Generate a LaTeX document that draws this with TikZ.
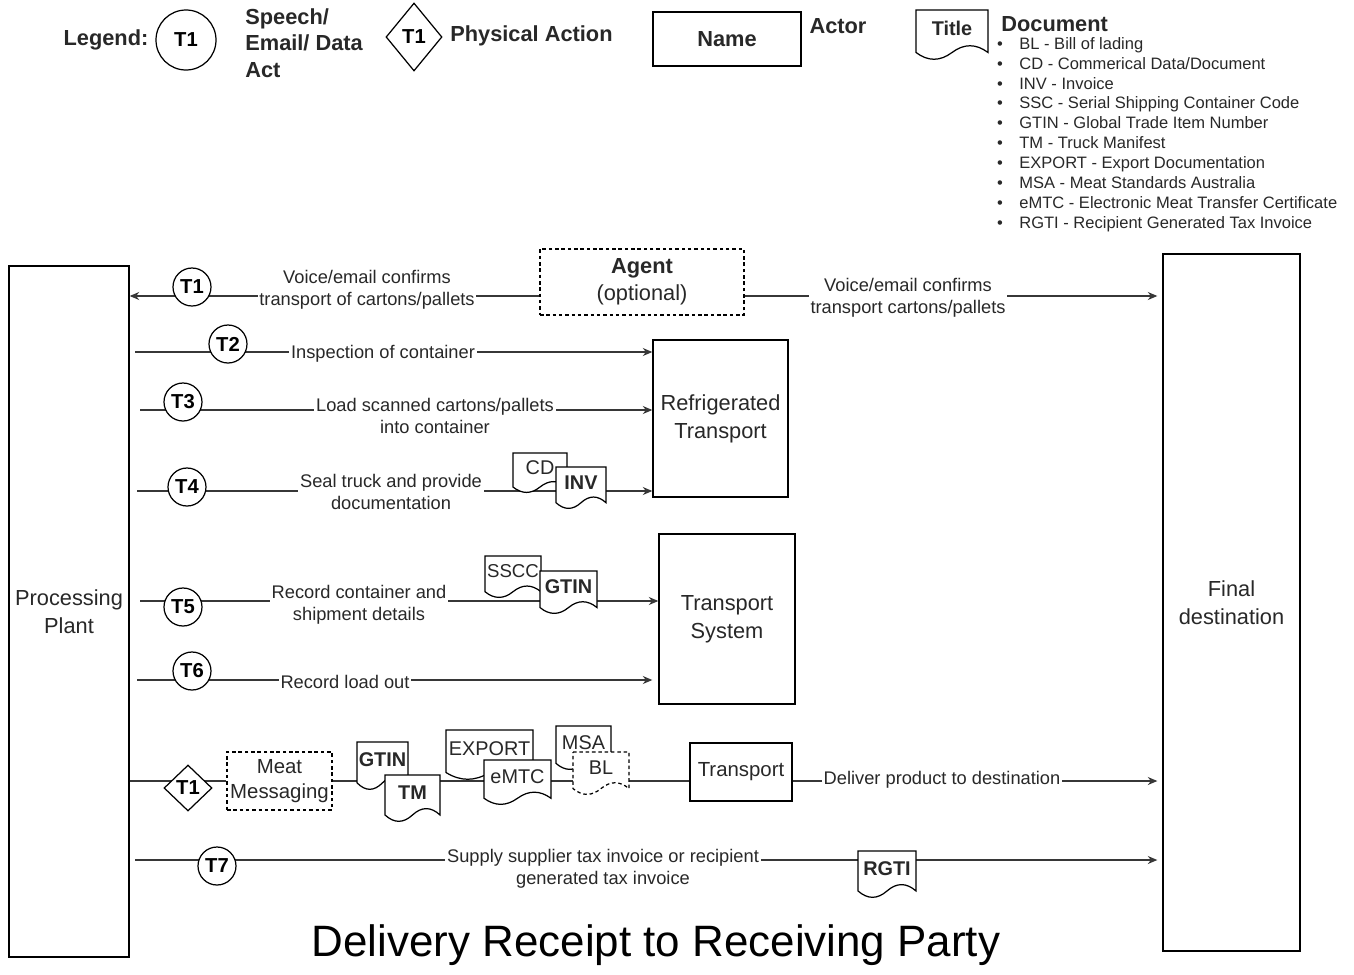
\documentclass[tikz,border=0pt]{standalone}
\usepackage{fontspec}
\setmainfont{Liberation Sans}
\usepackage{tikz}
\usetikzlibrary{arrows.meta, positioning, calc, shapes.geometric}
\usepackage{xcolor}
\definecolor{ink}{RGB}{40,40,40}
\definecolor{wire}{RGB}{55,55,55}
\newdimen\pxu \pxu=0.02cm
\newcommand{\fsz}[2]{\fontsize{#1}{#2}\selectfont}
\tikzset{
  flow/.style={draw=wire, line width=0.6pt},
  arr/.style={-{Stealth[length=1.9mm,width=1.6mm]}},
  actor/.style={draw=black, line width=0.8pt, fill=white, align=center, text=ink, font=\fsz{12.4}{15.9}},
  optactor/.style={actor, dash pattern=on 2pt off 1.6pt},
  boxsize/.style 2 args={minimum width=#1\pxu, minimum height=#2\pxu, inner sep=0pt},
  tact/.style={circle, draw=black, line width=0.7pt, fill=white, minimum size=38\pxu, inner sep=0pt, font=\bfseries\fsz{11.5}{13}},
  pact/.style={diamond, draw=black, line width=0.7pt, fill=white, inner sep=0pt, font=\bfseries\fsz{11.5}{13}},
  flowlabel/.style={fill=white, inner sep=1pt, align=center, text=ink, font=\fsz{10.4}{12.5}},
  docline/.style={draw=black, line width=0.7pt, fill=white},
  doctext/.style={inner sep=0pt, text=ink, font=\fsz{11.3}{13}},
  legendtext/.style={text=ink, font=\bfseries\fsz{12.4}{15}, align=left, inner sep=0pt},
  bullettext/.style={text=ink, font=\fsz{9.4}{11}, inner sep=0pt, text height=7pt, text depth=2pt},
}
% document glyph: [style] name x1 y1 x2 y2 text
\newcommand{\docnode}[7][]{%
  \pgfmathsetmacro\dw{#5-#3}%
  \pgfmathsetmacro\dh{#6-#4}%
  \draw[docline,#1] (#3,#4) -- (#5,#4) -- ({#5},{#4+0.85*\dh})
    .. controls ({#3+5/6*\dw},{#4+0.67*\dh}) and ({#3+2/3*\dw},{#4+0.67*\dh}) .. ({#3+0.5*\dw},{#4+0.85*\dh})
    .. controls ({#3+1/3*\dw},{#4+1.03*\dh}) and ({#3+1/6*\dw},{#4+1.03*\dh}) .. ({#3},{#4+0.85*\dh}) -- cycle;
  \node[doctext] (#2) at ({#3+0.5*\dw},{#4+0.37*\dh}) {#7};
}

\begin{document}
\begin{tikzpicture}[x=0.02cm, y=-0.02cm]
\useasboundingbox (0,0) rectangle (1354,974);

% legend
\node[legendtext] (leg) at (106,40) {Legend:};
\node[tact, minimum size=60\pxu] (legtact) at (186,40) {T1};
\node[legendtext, anchor=west, font=\bfseries\fsz{12.4}{15.2}] (legspeech) at (245,43) {Speech/\\Email/ Data\\Act};
\node[pact, minimum width=56\pxu, minimum height=68\pxu] (legpact) at (414,37) {T1};
\node[legendtext, anchor=west] (legphys) at (450,36) {Physical Action};
\node[actor, boxsize={148}{54}, font=\bfseries\fsz{12.4}{15}] (legname) at (727,39) {Name};
\node[legendtext] (legactor) at (838,26) {Actor};
\docnode[]{legtitle}{916}{10}{988}{60}{\textbf{Title}}
\node[legendtext, anchor=west] (legdoc) at (1001,24) {Document};
\foreach \entry [count=\i] in {BL - Bill of lading, CD - Commerical Data/Document, INV - Invoice,
  SSC - Serial Shipping Container Code, GTIN - Global Trade Item Number, TM - Truck Manifest,
  EXPORT - Export Documentation, MSA - Meat Standards Australia,
  eMTC - Electronic Meat Transfer Certificate, RGTI - Recipient Generated Tax Invoice}{
  \node[bullettext] (dot\i) at (1000,{25+\i*19.9}) {\textbullet};
  \node[bullettext, anchor=west] (entry\i) at (1019,{25+\i*19.9}) {\entry};
}

% actors
\node[actor, boxsize={120}{691}] (plant) at (69,611.5) {Processing\\Plant};
\node[actor, boxsize={137}{697}] (final) at (1231.5,602.5) {Final\\destination};
\node[optactor, boxsize={204}{66}, font=\fsz{12.4}{15.4}] (agent) at (642,282) {\textbf{Agent}\\(optional)};
\node[actor, boxsize={135}{157}] (reefer) at (720.5,418.5) {Refrigerated\\Transport};
\node[actor, boxsize={136}{170}] (tsys) at (727,619) {Transport\\System};
\node[actor, boxsize={102}{58}, font=\fsz{11.6}{14}] (truck) at (741,772) {Transport};
\node[optactor, boxsize={105}{58}, font=\fsz{11.6}{14.5}] (meat) at (279.5,781) {Meat\\Messaging};

% line starts
\coordinate (r1) at (0,296);
\coordinate (s2) at (135,352);
\coordinate (s3) at (140,410);
\coordinate (s4) at (137,491);
\coordinate (s5) at (140,601);
\coordinate (s6) at (137,680);
\coordinate (r8) at (0,781);
\coordinate (s7) at (135,860);

% connectors
\draw[flow,arr] (agent.west |- r1) -- (plant.east |- r1);
\draw[flow,arr,shorten >=5\pxu] (agent.east |- r1) -- (final.west |- r1);
\draw[flow,arr] (s2) -- (reefer.west |- s2);
\draw[flow,arr] (s3) -- (reefer.west |- s3);
\draw[flow,arr] (s4) -- (reefer.west |- s4);
\draw[flow,arr] (s5) -- (tsys.west |- s5);
\draw[flow,arr,shorten >=6\pxu] (s6) -- (tsys.west |- s6);
\draw[flow] (plant.east |- r8) -- (meat.west);
\draw[flow] (meat.east) -- (truck.west |- r8);
\draw[flow,arr,shorten >=5\pxu] (truck.east |- r8) -- (final.west |- r8);
\draw[flow,arr,shorten >=5\pxu] (s7) -- (final.west |- s7);

% connector labels
\node[flowlabel] (l1) at (367,290) {Voice/email confirms\\transport of cartons/pallets};
\node[flowlabel] (l1b) at (908,298) {Voice/email confirms\\transport cartons/pallets};
\node[flowlabel] (l2) at (383,354) {Inspection of container};
\node[flowlabel] (l3) at (435,416) {Load scanned cartons/pallets\\into container};
\node[flowlabel] (l4) at (391,492) {Seal truck and provide\\documentation};
\node[flowlabel] (l5) at (359,605) {Record container and\\shipment details};
\node[flowlabel] (l6) at (345,682) {Record load out};
\node[flowlabel] (l8) at (942,780) {Deliver product to destination};
\node[flowlabel] (l7) at (603,869) {Supply supplier tax invoice or recipient\\generated tax invoice};

% acts
\node[tact] (t1) at (192,287) {T1};
\node[tact] (t2) at (228,344) {T2};
\node[tact] (t3) at (183,402) {T3};
\node[tact] (t4) at (187,487) {T4};
\node[tact] (t5) at (183,607) {T5};
\node[tact] (t6) at (192,671) {T6};
\node[tact] (t7) at (217,866) {T7};
\node[pact, minimum width=48\pxu, minimum height=46\pxu] (p1) at (188,788) {T1};

% documents
\docnode[]{cd}{513}{453}{567}{493}{CD}
\docnode[]{inv}{556}{467}{606}{509}{\textbf{INV}}
\docnode[]{sscc}{485}{556}{541}{598}{\fsz{10.6}{12}SSCC}
\docnode[]{gtina}{540}{571}{597}{614}{\textbf{GTIN}}
\docnode[]{gtinb}{357}{742}{408}{790}{\textbf{GTIN}}
\docnode[]{tm}{385}{775}{440}{822}{\textbf{TM}}
\docnode[]{export}{446}{730}{533}{780}{EXPORT}
\docnode[]{emtc}{484}{760}{551}{805}{eMTC}
\docnode[]{msa}{556}{726}{611}{770}{MSA}
\docnode[dash pattern=on 2pt off 1.6pt]{bl}{573}{752}{629}{795}{BL}
\docnode[]{rgti}{858}{851}{916}{898}{\textbf{RGTI}}

\node[text=black, font=\fsz{25}{30}] (title) at (656,945) {Delivery Receipt to Receiving Party};
\end{tikzpicture}
\end{document}
